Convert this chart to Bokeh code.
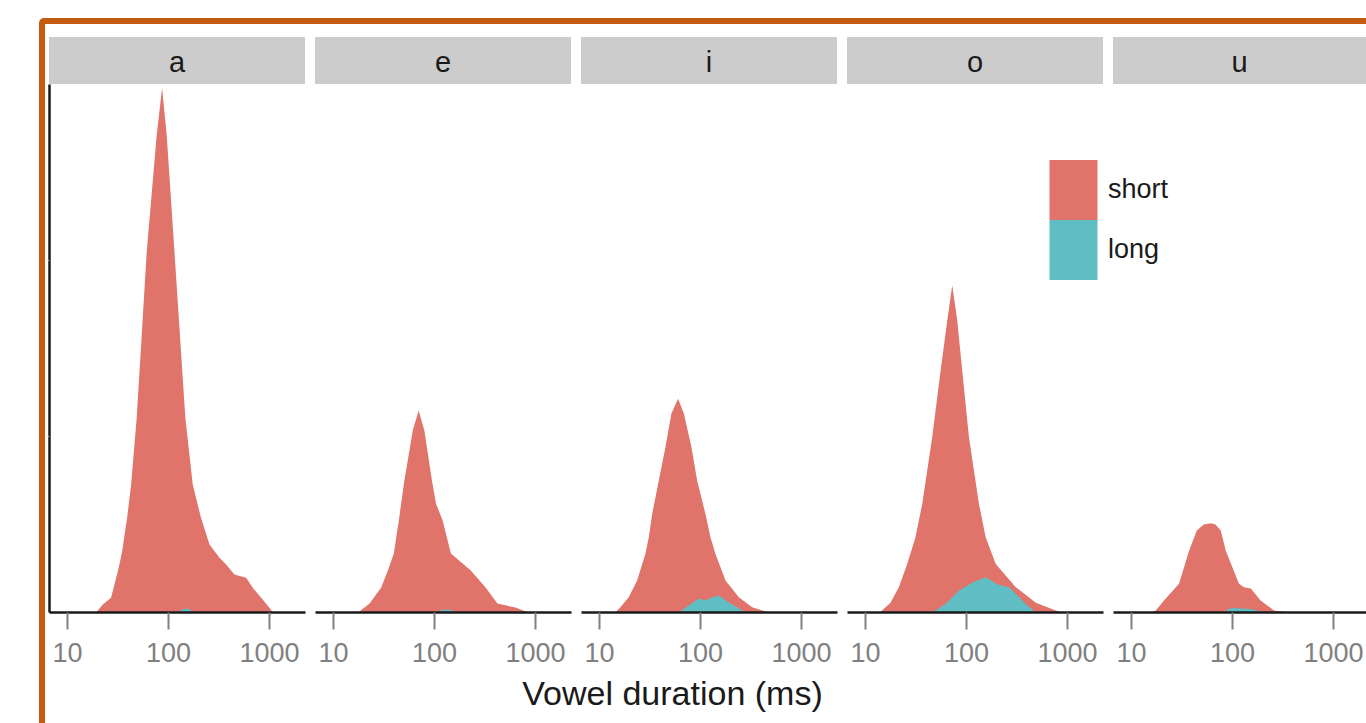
import numpy as np
from bokeh.plotting import figure
from bokeh.layouts import row, column
from bokeh.models import (Div, Spacer, Range1d, FixedTicker, PrintfTickFormatter, Legend,
                          LegendItem, ColumnDataSource)
from bokeh.embed import file_html
from bokeh.resources import INLINE

# ---------------- data ----------------
vowels = ["a", "e", "i", "o", "u"]

a_short_ms = [19.2, 22.4, 27, 29.2, 32.2, 34.8, 39, 42.7, 48.5, 61, 76.6, 86.5, 96, 114.6,
              147, 174, 210, 255, 320, 373, 450, 588, 684, 828, 1000, 1080]
a_short_d = [0, 0.045, 0.084, 0.159, 0.254, 0.348, 0.538, 0.727, 1.106, 2.053, 2.716, 2.98,
             2.716, 2.053, 1.106, 0.727, 0.538, 0.386, 0.311, 0.273, 0.216, 0.197, 0.14,
             0.084, 0.027, 0]
a_long_ms = [125, 140, 158, 180]
a_long_d = [0, 0.02, 0.022, 0]

e_short_ms = [17.5, 22.8, 29.7, 34.6, 39.6, 44.4, 46.8, 50.4, 61, 69.8, 79.4, 94.5, 103.5,
              120.5, 145.5, 229, 321, 420, 635, 853]
e_short_d = [0, 0.051, 0.142, 0.239, 0.335, 0.523, 0.619, 0.75, 1.034, 1.148, 1.034, 0.75,
             0.619, 0.523, 0.335, 0.239, 0.142, 0.051, 0.028, 0]
e_long_ms = [105, 120, 145, 165]
e_long_d = [0, 0.015, 0.015, 0]

i_short_ms = [14.4, 16.1, 19.5, 23.6, 28.5, 30.8, 33.3, 38.7, 45, 51.6, 60.1, 68.5, 81.5,
              92.7, 112, 125.7, 140.9, 177, 240, 325, 476]
i_short_d = [0, 0.03, 0.087, 0.182, 0.333, 0.428, 0.561, 0.75, 0.939, 1.13, 1.214, 1.13,
             0.939, 0.75, 0.561, 0.428, 0.333, 0.182, 0.087, 0.03, 0]
i_long_ms = [61, 79, 96.4, 111, 130, 152, 188, 236, 279]
i_long_d = [0, 0.045, 0.08, 0.068, 0.085, 0.097, 0.06, 0.025, 0]

o_short_ms = [13.8, 14.6, 17.7, 21.4, 25.9, 31.3, 36.5, 45.8, 55.5, 64.6, 72.3, 81.1, 90.8,
              105.9, 133, 155, 195, 308, 486, 767, 891]
o_short_d = [0, 0.011, 0.055, 0.144, 0.276, 0.428, 0.617, 0.996, 1.375, 1.659, 1.858, 1.659,
             1.375, 0.996, 0.617, 0.428, 0.276, 0.144, 0.055, 0.011, 0]
o_long_ms = [45.8, 62.2, 84.4, 116, 155, 201, 264, 387, 486]
o_long_d = [0, 0.049, 0.125, 0.172, 0.2, 0.16, 0.144, 0.049, 0]

u_short_ms = [15.5, 17.4, 21, 29.6, 37.2, 44.4, 52, 61, 68, 76.6, 85.9, 116, 130, 152, 190,
              258, 351]
u_short_d = [0, 0.011, 0.068, 0.163, 0.351, 0.466, 0.5, 0.507, 0.5, 0.466, 0.351, 0.163,
             0.144, 0.136, 0.068, 0.011, 0]
u_long_ms = [79.6, 98, 152, 204]
u_long_d = [0, 0.025, 0.02, 0]

x_ticks = [10, 100, 1000]
y_minor_ticks = [1, 2]
legend_labels = ["short", "long"]
x_title = "Vowel duration (ms)"

series = {
    "a": (a_short_ms, a_short_d, a_long_ms, a_long_d),
    "e": (e_short_ms, e_short_d, e_long_ms, e_long_d),
    "i": (i_short_ms, i_short_d, i_long_ms, i_long_d),
    "o": (o_short_ms, o_short_d, o_long_ms, o_long_d),
    "u": (u_short_ms, u_short_d, u_long_ms, u_long_d),
}

# ---------------- style ----------------
RED = "#E0736A"
TEAL = "#5FBEC3"
ORANGE = "#C55A11"
STRIP = "#CCCCCC"
INK = "#1A1A1A"
TICKGREY = "#808080"
FONT = "'Liberation Sans', Arial, sans-serif"

X_START, X_END = 6.64, 2276.0
FRAME_W, FRAME_H = 256, 528
RATIO = X_END / X_START
LEG_EXT = 70      # last panel's frame reaches this far left, to host the legend
OVERLAP = 65


def legend_key(label, renderer, y_from_bottom):
    return Legend(items=[LegendItem(label=label, renderers=[renderer])],
                  location=(0, y_from_bottom), orientation="vertical",
                  glyph_width=60, glyph_height=75, label_height=75,
                  label_standoff=5, padding=0, margin=0, spacing=0,
                  border_line_color=None, background_fill_alpha=0,
                  label_text_font=FONT, label_text_font_size="27px",
                  label_text_color=INK)


cols = []
for idx, v in enumerate(vowels):
    first, last = idx == 0, idx == len(vowels) - 1
    if last:
        fw = 253 + LEG_EXT
        x_start = X_START / RATIO ** (LEG_EXT / FRAME_W)
        x_end = X_START * RATIO ** (253 / FRAME_W)
        left_b, right_b = 0, 0
    else:
        fw = FRAME_W
        x_start, x_end = X_START, X_END
        left_b, right_b = (4 if first else 5), 5

    p = figure(x_axis_type="log", x_range=Range1d(x_start, x_end), y_range=Range1d(0, 3.0),
               frame_width=fw, frame_height=FRAME_H,
               min_border_left=left_b, min_border_right=right_b,
               min_border_top=0, min_border_bottom=60,
               output_backend="svg", toolbar_location=None)
    p.outline_line_color = None
    p.grid.visible = False
    p.background_fill_color = None
    p.border_fill_color = None

    s_ms, s_d, l_ms, l_d = series[v]
    r_short = p.varea(x="ms", y1=0, y2="d", source=ColumnDataSource(dict(ms=s_ms, d=s_d)),
                      fill_color=RED)
    r_long = p.varea(x="ms", y1=0, y2="d", source=ColumnDataSource(dict(ms=l_ms, d=l_d)),
                     fill_color=TEAL)

    xa = p.xaxis[0]
    xa.bounds = (X_START, x_end)
    xa.ticker = FixedTicker(ticks=x_ticks, minor_ticks=[])
    xa.formatter = PrintfTickFormatter(format="%d")
    xa.axis_line_color = INK
    xa.axis_line_width = 2.5
    xa.major_tick_in = 0
    xa.major_tick_out = 17
    xa.major_tick_line_color = TICKGREY
    xa.major_tick_line_width = 2
    xa.minor_tick_line_color = None
    xa.major_label_standoff = 13
    xa.major_label_text_font = FONT
    xa.major_label_text_font_size = "27px"
    xa.major_label_text_color = TICKGREY

    ya = p.yaxis[0]
    if first:
        ya.ticker = FixedTicker(ticks=[], minor_ticks=y_minor_ticks)
        ya.axis_line_color = INK
        ya.axis_line_width = 2.5
        ya.major_tick_line_color = None
        ya.minor_tick_in = 0
        ya.minor_tick_out = 2
        ya.minor_tick_line_color = "#AAAAAA"
        ya.major_label_standoff = 0
    else:
        ya.visible = False

    if last:
        p.add_layout(legend_key(legend_labels[0], r_short, 385))
        p.add_layout(legend_key(legend_labels[1], r_long, 325))
        strip_margin = (13, 0, 0, LEG_EXT)
        strip_w = 253
    else:
        strip_margin = (13, right_b, 0, left_b)
        strip_w = fw

    strip = Div(text=v, width=strip_w, height=47, margin=strip_margin,
                styles={"background-color": STRIP, "text-align": "center",
                        "font-family": FONT, "font-size": "29px", "line-height": "51px",
                        "color": INK, "overflow": "hidden"})
    cols.append(column(strip, p, margin=(0, 0, 0, -OVERLAP) if last else 0, spacing=0))

panels = row(*cols, spacing=0, margin=0)
xlabel = Div(text=x_title, width=1255, height=51, margin=0,
             styles={"text-align": "center", "font-family": FONT, "font-size": "34px",
                     "color": INK, "line-height": "normal", "padding-top": "2px"})
content = column(panels, xlabel, spacing=0, margin=0)

orange_top = Spacer(width=1327, height=6, margin=0,
                    styles={"background-color": ORANGE, "border-top-left-radius": "5px"})
orange_left = Spacer(width=6, height=699, margin=0, styles={"background-color": ORANGE})
framed = column(orange_top, row(orange_left, content, spacing=0, margin=0), spacing=0, margin=0)
root = column(Spacer(width=1366, height=18, margin=0),
              row(Spacer(width=39, height=705, margin=0), framed, spacing=0, margin=0),
              spacing=0, margin=0)

open("out.html", "w").write(file_html(root, INLINE))
